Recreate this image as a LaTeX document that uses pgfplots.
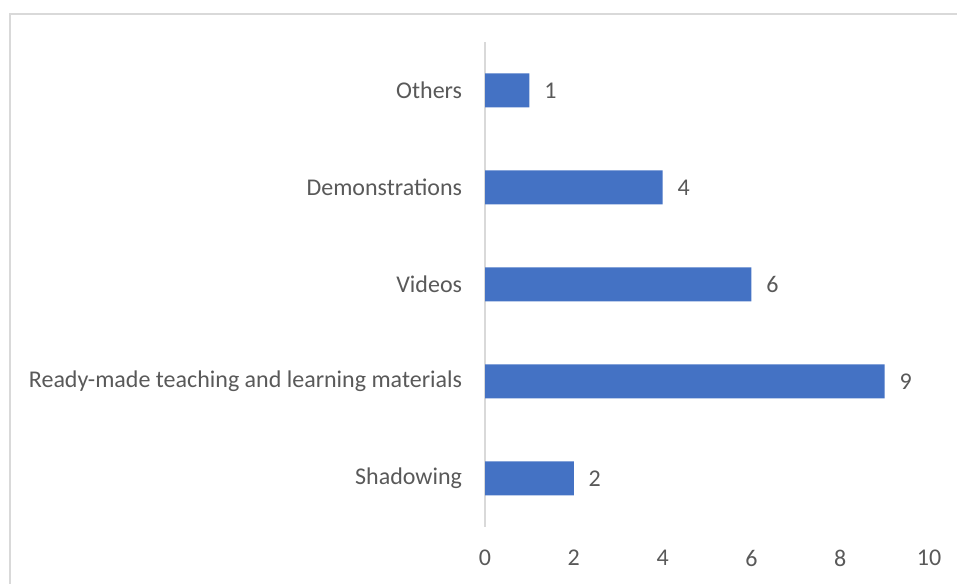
\documentclass[border=0pt]{standalone}
\usepackage{fontspec}
\setmainfont{Carlito}
\usepackage{pgfplots}
\pgfplotsset{compat=1.18}
\definecolor{barblue}{HTML}{4472C4}
\definecolor{txtgray}{HTML}{595959}
\definecolor{lngray}{HTML}{D9D9D9}
\begin{document}
\begin{tikzpicture}
\begin{axis}[
  scale only axis,
  width=333pt, height=363.75pt,
  at={(363.75pt,42.75pt)}, anchor=south west,
  xbar, bar width=25.5pt,
  xmin=0, xmax=10, ymin=-0.5, ymax=4.5,
  xtick={0,2,4,6,8,10},
  ytick={0,1,2,3,4},
  yticklabels={Shadowing,Ready-made teaching and learning materials,Videos,Demonstrations,Others},
  axis lines=left,
  axis line style={-},
  x axis line style={draw=none},
  y axis line style={draw=lngray, line width=1.2pt},
  major tick length=0pt,
  tick label style={font=\fontsize{18}{21}\selectfont, text=txtgray},
  /pgf/number format/assume math mode=true,
  y tick label style={inner sep=0pt, xshift=-17pt},
  x tick label style={inner sep=0pt, yshift=-17pt},
  nodes near coords,
  nodes near coords style={font=\fontsize{18}{21}\selectfont, text=txtgray, anchor=west, inner sep=0pt, xshift=11pt},
  clip=false,
]
\addplot[fill=barblue, draw=none] coordinates {(2,0) (9,1) (6,2) (4,3) (1,4)};
\end{axis}
\draw[lngray, line width=1pt] (7.5pt,-10pt) -- (7.5pt,427.5pt) -- (730pt,427.5pt);
\pgfresetboundingbox
\path[use as bounding box] (0,0) rectangle (717.75pt,438pt);
\end{tikzpicture}
\end{document}
